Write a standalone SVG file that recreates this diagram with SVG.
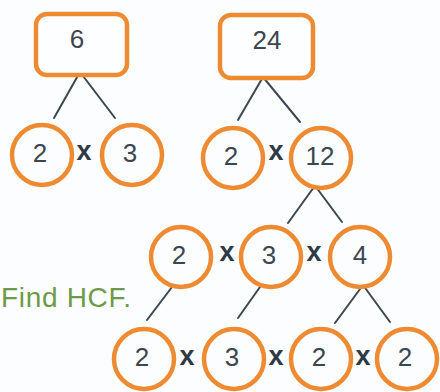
<svg xmlns="http://www.w3.org/2000/svg" width="440" height="392" viewBox="0 0 440 392">
<style>
.box{fill:#fdfeff;stroke:#ee8a32;stroke-width:4.5}
.c{fill:#fbfdff;stroke:#ee8a32;stroke-width:4.5}
.n{font-family:"Liberation Sans","DejaVu Sans",sans-serif;font-size:26px;fill:#3b4650;text-anchor:middle}
.x{font-family:"Liberation Sans","DejaVu Sans",sans-serif;font-size:27px;font-weight:bold;fill:#2f3a44;text-anchor:middle}
.l{stroke:#3d4752;stroke-width:2;fill:none;stroke-linecap:round}
.t{font-family:"Liberation Sans","DejaVu Sans",sans-serif;font-size:28px;fill:#6e9a48}
</style>
<rect width="440" height="392" fill="#fbfdfe"/>
<g id="connectors">
<path class="l" d="M80 72L54 118M80 72L115 118"/>
<path class="l" d="M263 77L238 120M263 77L300 122"/>
<path class="l" d="M314 187L288 223M316 187L342 222"/>
<path class="l" d="M172 287L147 320"/>
<path class="l" d="M260 287L238 318"/>
<path class="l" d="M363 285L335 323M363 285L390 322"/>
</g>
<g id="box6"><rect class="box" x="36" y="14" width="91" height="61" rx="11"/><text class="n" x="77" y="48">6</text></g>
<g id="box24"><rect class="box" x="220" y="15" width="93" height="63" rx="11"/><text class="n" x="267" y="49">24</text></g>
<g id="a"><circle class="c" cx="42" cy="155" r="30"/><text class="n" x="40" y="162">2</text></g>
<g id="b"><circle class="c" cx="132" cy="155" r="30"/><text class="n" x="130" y="162">3</text></g>
<g id="c"><circle class="c" cx="233" cy="158" r="30"/><text class="n" x="231" y="165">2</text></g>
<g id="d"><circle class="c" cx="321" cy="158" r="30"/><text class="n" x="320" y="165">12</text></g>
<g id="e"><circle class="c" cx="181" cy="257" r="30"/><text class="n" x="179" y="264">2</text></g>
<g id="f"><circle class="c" cx="271" cy="257" r="30"/><text class="n" x="269" y="264">3</text></g>
<g id="g"><circle class="c" cx="360" cy="257" r="30"/><text class="n" x="360" y="264">4</text></g>
<g id="h"><circle class="c" cx="144" cy="359" r="30"/><text class="n" x="142" y="366">2</text></g>
<g id="i"><circle class="c" cx="234" cy="359" r="30"/><text class="n" x="232" y="366">3</text></g>
<g id="j"><circle class="c" cx="321" cy="359" r="30"/><text class="n" x="319" y="366">2</text></g>
<g id="k"><circle class="c" cx="407" cy="359" r="30"/><text class="n" x="405" y="366">2</text></g>
<g id="times">
<text class="x" x="84" y="160">x</text>
<text class="x" x="276" y="160">x</text>
<text class="x" x="227" y="261">x</text>
<text class="x" x="314" y="261">x</text>
<text class="x" x="187" y="365">x</text>
<text class="x" x="276" y="365">x</text>
<text class="x" x="363" y="365">x</text>
</g>
<text class="t" x="1" y="307" textLength="130" lengthAdjust="spacing">Find HCF.</text>
</svg>
